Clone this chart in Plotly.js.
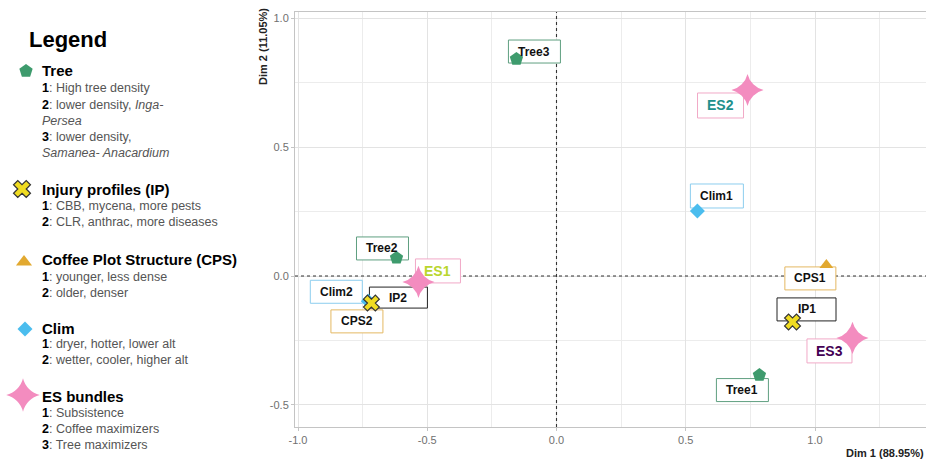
<!DOCTYPE html>
<html><head><meta charset="utf-8">
<script src="https://cdn.plot.ly/plotly-3.0.1.min.js"></script>
<style>html,body{margin:0;padding:0;background:#fff}#chart{width:926px;height:459px}</style>
</head><body><div id="chart"></div>
<script>
// ---------- data ----------
const labels = ["Tree1","Tree2","Tree3","IP1","IP2","CPS1","CPS2","Clim1","Clim2","ES1","ES2","ES3"];
const groups = ["Tree","Tree","Tree","IP","IP","CPS","CPS","Clim","Clim","ES","ES","ES"];
const dim1 = [0.785,-0.619,-0.155,0.913,-0.716,1.044,-0.714,0.545,-0.728,-0.534,0.739,1.145];
const dim2 = [-0.384,0.070,0.841,-0.178,-0.105,0.043,-0.112,0.252,-0.098,-0.023,0.721,-0.240];

const xTickVals = [-1,-0.5,0,0.5,1];
const xTickText = ["-1.0","-0.5","0.0","0.5","1.0"];
const yTickVals = [-0.5,0,0.5,1];
const yTickText = ["-0.5","0.0","0.5","1.0"];
const xTitle = "Dim 1 (88.95%)";
const yTitle = "Dim 2 (11.05%)";

const legendTitle = "Legend";
const legendGroups = ["Tree","IP","CPS","Clim","ES"];
const legendHeaders = ["Tree","Injury profiles (IP)","Coffee Plot Structure (CPS)","Clim","ES bundles"];
const legendLines = [
  ["<b>1</b>: High tree density","<b>2</b>: lower density, <i>Inga-</i>","<i>Persea</i>","<b>3</b>: lower density,","<i>Samanea- Anacardium</i>"],
  ["<b>1</b>: CBB, mycena, more pests","<b>2</b>: CLR, anthrac, more diseases"],
  ["<b>1</b>: younger, less dense","<b>2</b>: older, denser"],
  ["<b>1</b>: dryer, hotter, lower alt","<b>2</b>: wetter, cooler, higher alt"],
  ["<b>1</b>: Subsistence","<b>2</b>: Coffee maximizers","<b>3</b>: Tree maximizers"]
];

// ---------- styles / layout positions ----------
const FONT = "Liberation Sans, Arial, sans-serif";
const W = 926, H = 459;
const plotL = 295, plotT = 12, plotB = 427;
const xRange = [-1.0116, 1.4294];
const yRange = [-0.5853, 1.0233];

const groupStyle = {
  Tree: {symbol:"pentagon", color:"#3e9b6d", size:14, line:{width:0}, border:"#5f9f80", legSize:14},
  IP:   {symbol:"x", color:"#f0dc22", size:14, line:{width:1.2,color:"#333"}, border:"#222222", legSize:15},
  CPS:  {symbol:"triangle-up", color:"#e2a930", size:12, line:{width:0}, border:"#e4b862", legSize:14},
  Clim: {symbol:"diamond", color:"#4bbdee", size:11.5, line:{width:0}, border:"#8ccdee", legSize:11.5},
  ES:   {symbol:"star-diamond", color:"#f38cbf", size:23, line:{width:0}, border:"#f1a9c7", legSize:24}
};
const drawOrder = ["Clim","CPS","IP","Tree","ES"];
// label box: center offset from point in screen px (dx right, dy down), width, height
const boxDx = [-17,-14,18,14,27,-16,-15,19.5,-32,19.5,-27,-23];
const boxDy = [15,-9.5,-7.5,-12.5,-5.5,13.5,16.5,-15,-9.5,-11,15.5,13];
const boxW  = [52,52,52,59,58,51,52,53,52,45,46,45];
const boxH  = [23,23,23,23,21,23,23,24,23,24,25,24];
const textColor = {ES1:"#b9d62e", ES2:"#21908c", ES3:"#440154"};

// legend layout (pixel positions)
const legTitleY = 39, legTextX = 40;
const legHeaderY = [71,189,259,328,396];
const legLineY = [[88,105,121,137,153],[206,222],[277,293],[344,360],[413,429,445]];
const legIconX = [26,22,24,25,23];
const legIconY = [71,189,262,329,395];

const px = v => v / W;
const py = v => 1 - v / H;

// ---------- traces ----------
const traces = [];
drawOrder.forEach(g => {
  const idx = groups.map((gg,i)=>gg===g?i:-1).filter(i=>i>=0);
  const st = groupStyle[g];
  traces.push({
    type:"scatter", mode:"markers", xaxis:"x", yaxis:"y",
    x: idx.map(i=>dim1[i]), y: idx.map(i=>dim2[i]),
    marker:{symbol:st.symbol, color:st.color, size:st.size, line:st.line},
    hoverinfo:"skip", showlegend:false, cliponaxis:false
  });
});
legendGroups.forEach((g,k) => {
  const st = groupStyle[g];
  traces.push({
    type:"scatter", mode:"markers", xaxis:"x2", yaxis:"y2",
    x:[legIconX[k]], y:[legIconY[k]],
    marker:{symbol:st.symbol, color:st.color, size:st.legSize, line:st.line},
    hoverinfo:"skip", showlegend:false, cliponaxis:false
  });
});

// ---------- shapes ----------
const shapes = [
  {type:"line", layer:"between", xref:"x", yref:"y", x0:0, x1:0, y0:yRange[0], y1:yRange[1],
   line:{color:"#333333", width:1.1, dash:"3px,3px"}},
  {type:"line", layer:"between", xref:"x", yref:"y", x0:xRange[0], x1:xRange[1], y0:0, y1:0,
   line:{color:"#333333", width:1.1, dash:"3px,3px"}}
];
const ann = [];
labels.forEach((lab,i) => {
  const st = groupStyle[groups[i]];
  const isES = groups[i]==="ES";
  shapes.push({
    type:"rect", layer:"between", xref:"x", yref:"y",
    xsizemode:"pixel", ysizemode:"pixel", xanchor:dim1[i], yanchor:dim2[i],
    x0: boxDx[i]-boxW[i]/2, x1: boxDx[i]+boxW[i]/2,
    y0: -boxDy[i]-boxH[i]/2, y1: -boxDy[i]+boxH[i]/2,
    fillcolor:"#ffffff", line:{color:st.border, width:1}
  });
  ann.push({xref:"x", yref:"y", x:dim1[i], y:dim2[i], xshift:boxDx[i], yshift:-boxDy[i],
    xanchor:"center", yanchor:"middle", showarrow:false, text:"<b>"+lab+"</b>",
    font:{family:FONT, size:isES?14:12, color:textColor[lab] || "#111111"}});
});

// ---------- legend & titles ----------
ann.push({xref:"paper", yref:"paper", x:px(27), y:py(legTitleY), xanchor:"left", yanchor:"middle",
  text:"<b>"+legendTitle+"</b>", showarrow:false, font:{family:FONT, size:22, color:"#000"}});
legendHeaders.forEach((h,k) => {
  ann.push({xref:"paper", yref:"paper", x:px(legTextX), y:py(legHeaderY[k]), xanchor:"left", yanchor:"middle",
    text:"<b>"+h+"</b>", showarrow:false, font:{family:FONT, size:15, color:"#000"}});
  legendLines[k].forEach((t,j) => {
    ann.push({xref:"paper", yref:"paper", x:px(legTextX), y:py(legLineY[k][j]), xanchor:"left", yanchor:"middle",
      text:t.replace(/<b>(\d)<\/b>/, "<b><span style='color:#000'>$1</span></b>"),
      showarrow:false, font:{family:FONT, size:12.5, color:"#555555"}});
  });
});
ann.push({xref:"paper", yref:"paper", x:1, y:py(453), xanchor:"right", yanchor:"middle",
  text:"<b>"+xTitle+"</b>", showarrow:false, font:{family:FONT, size:11, color:"#222"}});
ann.push({xref:"paper", yref:"paper", x:px(263), y:py(47), xanchor:"center", yanchor:"middle", textangle:-90,
  text:"<b>"+yTitle+"</b>", showarrow:false, font:{family:FONT, size:11, color:"#222"}});

// ---------- layout ----------
const layout = {
  width:W, height:H, margin:{l:0,r:0,t:0,b:0},
  paper_bgcolor:"#fff", plot_bgcolor:"#fff", showlegend:false,
  font:{family:FONT},
  xaxis:{domain:[px(plotL),1], range:xRange, tickvals:xTickVals, ticktext:xTickText,
    showgrid:true, gridcolor:"#e3e3e3", gridwidth:1, zeroline:false,
    minor:{dtick:0.25, tick0:0, showgrid:true, gridcolor:"#ececec", gridwidth:1},
    showline:true, mirror:true, linecolor:"#c4c4c4", linewidth:1,
    ticks:"outside", ticklen:3, tickcolor:"#c4c4c4",
    tickfont:{family:FONT, size:11, color:"#707070"}, anchor:"y"},
  yaxis:{domain:[1-plotB/H, 1-plotT/H], range:yRange, tickvals:yTickVals, ticktext:yTickText,
    showgrid:true, gridcolor:"#e3e3e3", gridwidth:1, zeroline:false,
    minor:{dtick:0.25, tick0:0, showgrid:true, gridcolor:"#ececec", gridwidth:1},
    showline:true, mirror:true, linecolor:"#c4c4c4", linewidth:1,
    ticks:"outside", ticklen:3, tickcolor:"#c4c4c4",
    tickfont:{family:FONT, size:11, color:"#707070"}, anchor:"x"},
  xaxis2:{domain:[0, px(plotL)-0.01], range:[0, plotL-0.01*W], visible:false, anchor:"y2", fixedrange:true},
  yaxis2:{domain:[0,1], range:[H,0], visible:false, anchor:"x2", fixedrange:true},
  shapes:shapes, annotations:ann
};

Plotly.newPlot("chart", traces, layout, {staticPlot:true, displayModeBar:false});
</script></body></html>
